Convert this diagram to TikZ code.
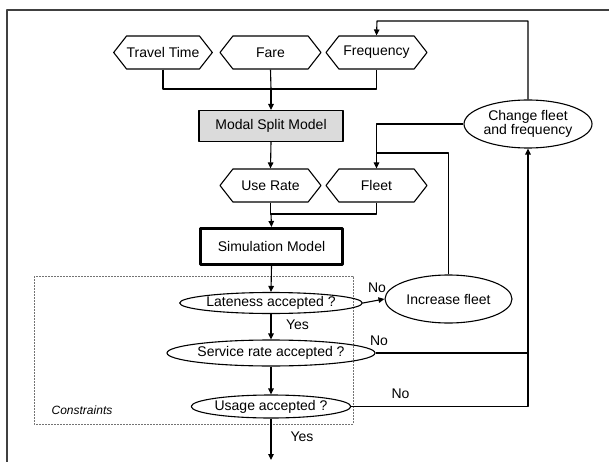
\documentclass[tikz,border=0pt]{standalone}
\usepackage{fontspec}
\setmainfont{Liberation Sans}
\usetikzlibrary{arrows.meta, shapes.symbols, shapes.geometric, positioning}
\definecolor{modal_gray}{gray}{0.86}
\tikzset{
  arr/.style={-{Triangle[length=6pt,width=5.5pt]}},
  hexa/.style={draw, shape=signal, signal to=east and west, signal pointer angle=104,
    minimum width=101pt, minimum height=33pt, inner sep=0pt, font=\fontsize{14}{16}\selectfont},
  modelbox/.style={draw, rectangle, inner sep=0pt, font=\fontsize{14}{16}\selectfont},
  test/.style={draw, ellipse, inner sep=0pt, font=\fontsize{14}{16}\selectfont},
  lbl/.style={inner sep=0pt, font=\fontsize{14}{16}\selectfont}
}

\begin{document}
\begin{tikzpicture}[x=1pt, y=-1pt, line width=1.1pt, line join=round]
	\useasboundingbox (0,0) rectangle (609,462);
	\draw[black!75] (7,470) -- (7,10) -- (615,10);

	% inputs
	\node[hexa, minimum width=98pt] (ttime) at (163,52.5) {Travel Time};
	\node[hexa] (fare)  at (270.5,52.5) {Fare};
	\node[hexa] (freq)  at (376.5,52.5) {Frequency};
	\node[modelbox, fill=modal_gray, minimum width=144pt, minimum height=31pt] (modal) at (271,126) {Modal Split Model};
	\node[hexa] (userate) at (270.5,185.5) {Use Rate};
	\node[hexa] (fleet)   at (376.5,185.5) {Fleet};
	\node[modelbox, line width=3pt, minimum width=142pt, minimum height=36pt] (sim) at (271.5,246.5) {Simulation Model};

	% constraints
	\draw[black!55, line width=0.8pt, dash pattern=on 2pt off 1pt] (34,276) rectangle (353,424);
	\node[lbl, font=\fontsize{12}{14}\selectfont\itshape] (cons) at (82,410) {Constraints};
	\node[test, minimum width=158pt, minimum height=21pt] (late)  at (271,303) {Lateness accepted ?};
	\node[test, minimum width=157pt, minimum height=26pt] (serv)  at (271,353) {Service rate accepted ?};
	\node[test, minimum width=157pt, minimum height=23pt] (usage) at (271,406.5) {Usage accepted ?};

	% corrections
	\node[test, minimum width=127pt, minimum height=48pt] (incr) at (448.5,299) {Increase fleet};
	\node[test, minimum width=128pt, minimum height=48pt, align=center] (change) at (528,124) {Change fleet\\[-2pt]and frequency};

	\coordinate (j1) at (271,89);
	\coordinate (j2) at (377,153);
	\coordinate (j3) at (271,214);
	\coordinate (top) at (377,21);
	\coordinate (done) at (271,460);

	\draw (ttime.south) |- (j1) -| (freq.south);
	\draw (fare.south) -- (j1);
	\draw[arr] (j1) -- (modal.north);
	\draw[arr] (modal.south) -- (userate.north);
	\draw[arr] (change.west) -| (fleet.north);
	\draw (incr.north) |- (j2);
	\draw (userate.south) |- (j3) -| (fleet.south);
	\draw[arr] (j3) -- (sim.north);
	\draw[arr] (sim.south) -- (late.north);
	\draw[arr] (late.east) -- (incr.west);
	\draw[arr] (late.south) -- (serv.north);
	\draw[arr] (serv.south) -- (usage.north);
	\draw[arr] (usage.south) -- (done);
	\draw (serv.east) -- (serv.east -| change.south);
	\draw[arr] (usage.east) -| (change.south);
	\draw[arr] (change.north) |- (top) -- (freq.north);

	\node[lbl] (no1)  at (377,288) {No};
	\node[lbl] (yes1) at (297.5,325) {Yes};
	\node[lbl] (no2)  at (379,341) {No};
	\node[lbl] (no3)  at (400.5,394) {No};
	\node[lbl] (yes2) at (302,437) {Yes};
\end{tikzpicture}
\end{document}
